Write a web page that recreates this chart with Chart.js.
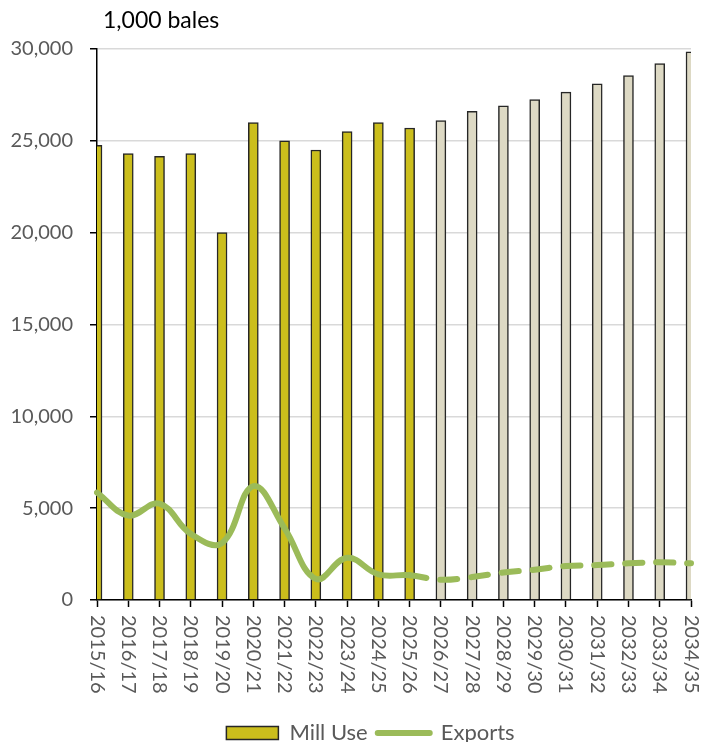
<!DOCTYPE html>
<html>
<head>
<meta charset="utf-8">
<script src="https://cdn.jsdelivr.net/npm/chart.js@4"></script>
<style>
  html, body { margin: 0; padding: 0; background: #fff; }
  #wrap { width: 701px; height: 742px; }
</style>
</head>
<body>
<div id="wrap"><canvas id="myChart" width="701" height="742"></canvas></div>
<script>
// marketing years on the x axis
const years = ['2015/16', '2016/17', '2017/18', '2018/19', '2019/20', '2020/21', '2021/22',
  '2022/23', '2023/24', '2024/25', '2025/26', '2026/27', '2027/28', '2028/29', '2029/30',
  '2030/31', '2031/32', '2032/33', '2033/34', '2034/35'];

// 1,000 bales
const millUse = [24750, 24300, 24150, 24300, 20000, 26000, 25000, 24500, 25500, 26000,
  25700, 26100, 26600, 26900, 27250, 27650, 28100, 28550, 29200, 29850];
const exportsData = [5850, 4600, 5250, 3600, 3100, 6200, 3900, 1150, 2300, 1400,
  1350, 1100, 1250, 1500, 1650, 1850, 1900, 2000, 2050, 2000];

// first projected year (bars change colour, line goes dashed)
const firstProjection = 11;

const yTicks = [0, 5000, 10000, 15000, 20000, 25000, 30000];

const grey = '#595959';
const barColors = years.map((y, i) => i < firstProjection ? '#CBBE1C' : '#DDD9C4');

//draws the unit label and the vertical year labels
const extraText = {
  id: 'extraText',
  afterLayout(chart) {
    // legend sits a bit right of the canvas centre in the original
    chart.legend.left += 50;
  },
  afterDraw(chart) {
    const ctx = chart.ctx;
    ctx.save();
    ctx.fillStyle = '#000';
    ctx.font = '23px Lato';
    ctx.textAlign = 'left';
    ctx.textBaseline = 'alphabetic';
    ctx.fillText('1,000 bales', 103, 28);

    const xs = chart.scales.x;
    ctx.fillStyle = grey;
    ctx.font = '20px Lato';
    ctx.textBaseline = 'middle';
    years.forEach((lab, i) => {
      ctx.save();
      ctx.translate(xs.getPixelForTick(i), xs.top + 15);
      ctx.rotate(Math.PI / 2);
      ctx.fillText(lab, 0, 0);
      ctx.restore();
    });
    ctx.restore();
  }
};

const config = {
  type: 'bar',
  data: {
    labels: years,
    datasets: [{
      label: 'Mill Use',
      data: millUse,
      backgroundColor: barColors,
      borderColor: '#262626',
      borderWidth: 1.5,
      barThickness: 10,
      order: 2
    },
    {
      type: 'line',
      label: 'Exports',
      data: exportsData,
      borderColor: '#9BBB59',
      backgroundColor: '#9BBB59',
      borderWidth: 6,
      borderCapStyle: 'round',
      tension: 0.4,
      pointRadius: 0,
      fill: false,
      order: 1,
      segment: {
        borderDash: c => c.p0DataIndex >= firstProjection - 1 ? [17, 14] : undefined
      }
    }]
  },
  options: {
    responsive: false,
    animation: false,
    layout: { padding: { top: 49, right: 10, left: 0, bottom: -12 } },
    scales: {
      x: {
        offset: false,
        grid: { offset: false, drawOnChartArea: false, tickColor: '#000', tickLength: 7, tickWidth: 1.5 },
        border: { color: '#000', width: 1.5 },
        ticks: { display: false },
        afterFit: s => { s.height = 112; }
      },
      y: {
        min: 0,
        max: 30000,
        afterBuildTicks: s => { s.ticks = yTicks.map(v => ({ value: v })); },
        grid: { color: '#D9D9D9', lineWidth: 1.5, tickColor: '#000', tickLength: 7, tickWidth: 1.5 },
        border: { color: '#000', width: 1.5 },
        ticks: {
          color: grey,
          padding: 17,
          font: { family: 'Lato', size: 20 },
          callback: v => v.toLocaleString('en-US')
        },
        afterFit: s => { s.width = 97; }
      }
    },
    plugins: {
      tooltip: { enabled: false },
      legend: {
        position: 'bottom',
        labels: {
          color: grey,
          font: { family: 'Lato', size: 22 },
          usePointStyle: true,
          pointStyleWidth: 52,
          boxWidth: 52,
          boxHeight: 13,
          padding: 10,
          generateLabels: () => [
            { text: 'Mill Use', fillStyle: '#CBBE1C', strokeStyle: '#262626', lineWidth: 1.5,
              pointStyle: 'rect', datasetIndex: 0, fontColor: grey },
            { text: 'Exports', fillStyle: '#9BBB59', strokeStyle: '#9BBB59', lineWidth: 6,
              lineCap: 'round', pointStyle: 'line', datasetIndex: 1, fontColor: grey }
          ]
        }
      }
    }
  },
  plugins: [extraText]
};

let myChart = new Chart(document.getElementById('myChart'), config);
</script>
</body>
</html>
